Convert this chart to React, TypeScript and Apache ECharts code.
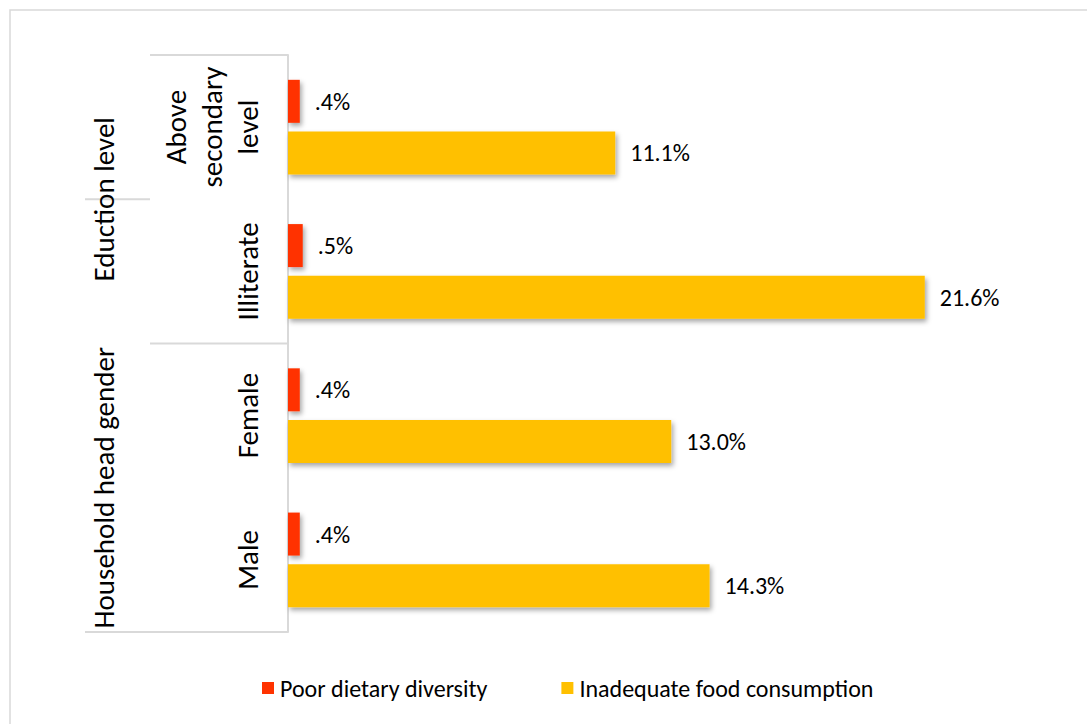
import React, { useEffect, useRef } from "react";
import * as echarts from "echarts";

// Household groups, listed bottom to top on the category axis
const categories = ["Male", "Female", "Illiterate", "Above secondary level"];
const groups = ["Household head gender", "Eduction level"];

// Percent of households in each group
const poorDietaryDiversity = [0.4, 0.4, 0.5, 0.4];
const inadequateFoodConsumption = [14.3, 13.0, 21.6, 11.1];

const seriesNames = ["Poor dietary diversity", "Inadequate food consumption"];
const seriesColors = ["#FF3300", "#FFC000"];

const FONT = "Carlito, Lato, sans-serif";
const GRID_LEFT = 288;
const GRID_TOP = 55;
const GRID_HEIGHT = 577;
const LINE = "#D9D9D9";

const fmtPct = (v: number) => v.toFixed(1).replace(/^0/, "") + "%";

export default function App() {
  const ref = useRef<HTMLDivElement>(null);

  useEffect(() => {
    if (!ref.current) return;
    const chart = echarts.init(ref.current, undefined, { renderer: "svg" });
    const bottom = GRID_TOP + GRID_HEIGHT;
    const band = GRID_HEIGHT / categories.length;
    const colA = 150;
    const colB = 85;

    const barSeries = (name: string, data: number[], color: string) => ({
      name,
      type: "bar",
      data,
      barWidth: 43,
      barGap: "20%",
      itemStyle: {
        color,
        shadowColor: "rgba(0,0,0,0.35)",
        shadowBlur: 5,
        shadowOffsetX: 2,
        shadowOffsetY: 3,
      },
      label: {
        show: true,
        position: "right",
        distance: 15,
        formatter: (p: any) => fmtPct(p.value),
        fontFamily: FONT,
        fontSize: 24,
        color: "#000",
      },
    });

    chart.setOption({
      animation: false,
      backgroundColor: "#fff",
      textStyle: { fontFamily: FONT },
      grid: {
        left: GRID_LEFT,
        top: GRID_TOP,
        height: GRID_HEIGHT,
        width: 737,
        containLabel: false,
      },
      xAxis: {
        type: "value",
        min: 0,
        max: 25,
        show: false,
      },
      yAxis: [
        {
          type: "category",
          data: categories,
          axisLine: { show: true, lineStyle: { color: LINE, width: 2 } },
          axisTick: { show: false },
          axisLabel: {
            interval: 0,
            rotate: 90,
            margin: 22,
            fontFamily: FONT,
            fontSize: 29,
            lineHeight: 36,
            color: "#000",
            formatter: (v: string) => v.replace(/ /g, "\n"),
          },
        },
        {
          type: "category",
          data: groups,
          position: "left",
          offset: 168,
          axisLine: { show: false },
          axisTick: { show: false },
          axisLabel: {
            interval: 0,
            rotate: 90,
            margin: 2,
            fontFamily: FONT,
            fontSize: 29,
            color: "#000",
          },
        },
      ],
      legend: {
        data: seriesNames,
        left: 262,
        top: 676,
        padding: 0,
        itemWidth: 12,
        itemHeight: 12,
        itemGap: 74,
        icon: "rect",
        textStyle: { fontFamily: FONT, fontSize: 24, color: "#000", padding: [0, 0, 0, 1] },
      },
      graphic: [
        {
          type: "rect",
          shape: { x: 10, y: 10, width: 1200, height: 900 },
          style: { fill: "none", stroke: LINE, lineWidth: 1.5 },
          silent: true,
        },
        {
          type: "line",
          shape: { x1: colA, y1: GRID_TOP, x2: GRID_LEFT, y2: GRID_TOP },
          style: { stroke: LINE, lineWidth: 2 },
        },
        {
          type: "line",
          shape: { x1: colB, y1: GRID_TOP + band, x2: colA, y2: GRID_TOP + band },
          style: { stroke: LINE, lineWidth: 2 },
        },
        {
          type: "line",
          shape: { x1: colA, y1: GRID_TOP + band * 2, x2: GRID_LEFT, y2: GRID_TOP + band * 2 },
          style: { stroke: LINE, lineWidth: 2 },
        },
        {
          type: "line",
          shape: { x1: colB, y1: bottom, x2: GRID_LEFT, y2: bottom },
          style: { stroke: LINE, lineWidth: 2 },
        },
      ],
      series: [
        barSeries(seriesNames[0], poorDietaryDiversity, seriesColors[0]),
        barSeries(seriesNames[1], inadequateFoodConsumption, seriesColors[1]),
      ],
    });

    return () => chart.dispose();
  }, []);

  return (
    <div
      ref={ref}
      style={{ position: "fixed", left: 0, top: 0, width: 1087, height: 724 }}
    />
  );
}
